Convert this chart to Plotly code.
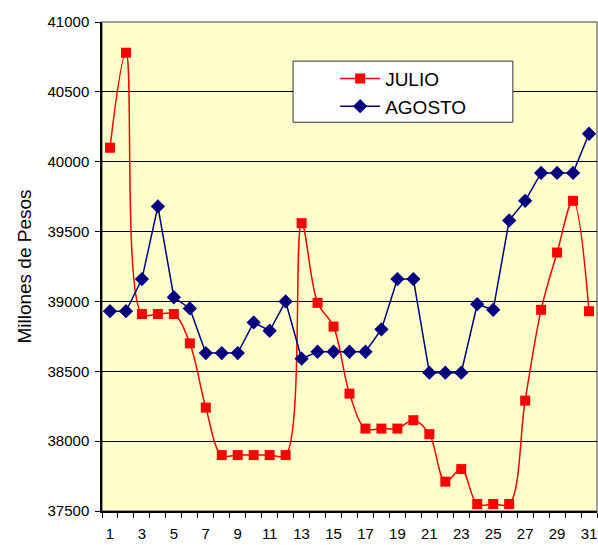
import plotly.graph_objects as go

# Daily balances, in millions of pesos
days = list(range(1, 32))
julio = [40100, 40780, 38910, 38910, 38910, 38700, 38240, 37900, 37900, 37900,
         37900, 37900, 39560, 38990, 38820, 38340, 38090, 38090, 38090, 38150,
         38050, 37710, 37800, 37550, 37550, 37550, 38290, 38940, 39350, 39720,
         38930]
agosto = [38930, 38930, 39160, 39680, 39030, 38950, 38630, 38630, 38630, 38850,
          38790, 39000, 38590, 38640, 38640, 38640, 38640, 38800, 39160, 39160,
          38490, 38490, 38490, 38980, 38940, 39580, 39720, 39920, 39920, 39920,
          40200]
y_ticks = [37500, 38000, 38500, 39000, 39500, 40000, 40500, 41000]
x_labels = list(range(1, 32, 2))

FONT = "Liberation Sans, Arial, sans-serif"

fig = go.Figure()
fig.add_trace(go.Scatter(
    x=days, y=julio, name="JULIO", mode="lines+markers",
    line=dict(color="#FF0000", width=1.5, shape="spline", smoothing=1.0),
    marker=dict(symbol="square", size=10, color="#FF0000"),
))
fig.add_trace(go.Scatter(
    x=days, y=agosto, name="AGOSTO", mode="lines+markers",
    line=dict(color="#000080", width=1.5),
    marker=dict(symbol="diamond", size=11, color="#000080"),
))

# grey frame around the plotting area (top and right edges)
fig.add_shape(type="rect", xref="paper", yref="paper", x0=0, y0=0, x1=1, y1=1,
              line=dict(color="#808080", width=1.5), layer="below")
# white panel with a dark border behind the legend entries
fig.add_shape(type="rect", xref="paper", yref="paper",
              x0=0.386, y0=0.795, x1=0.830, y1=0.920,
              fillcolor="white", line=dict(color="#333333", width=1), layer="above")

fig.update_layout(
    width=598, height=545,
    margin=dict(l=102, r=1, t=22, b=34),
    paper_bgcolor="white",
    plot_bgcolor="#FFFFCC",
    font=dict(family=FONT, color="black", size=15),
    showlegend=True,
    legend=dict(
        x=0.471, y=0.923, xanchor="left", yanchor="top",
        bgcolor="rgba(0,0,0,0)", borderwidth=0,
        font=dict(size=19, family=FONT),
        tracegroupgap=0, itemwidth=40,
    ),
    xaxis=dict(
        range=[0.5, 31.5],
        tickmode="array", tickvals=x_labels, ticktext=[str(v) for v in x_labels],
        ticks="", ticklabelstandoff=8,
        showgrid=False, zeroline=False,
        showline=True, linecolor="black", linewidth=1.5,
        minor=dict(tickvals=[d + 0.5 for d in range(0, 32)], ticks="outside",
                   ticklen=5, tickcolor="black", tickwidth=1, showgrid=False),
        tickfont=dict(size=15),
    ),
    yaxis=dict(
        range=[37500, 41000],
        tickmode="array", tickvals=y_ticks, ticktext=[str(v) for v in y_ticks],
        ticks="outside", ticklen=5, tickcolor="black", tickwidth=1,
        showgrid=True, gridcolor="black", gridwidth=1,
        zeroline=False,
        showline=True, linecolor="black", linewidth=1.5,
        tickfont=dict(size=15), ticklabelstandoff=3,
        title=dict(text="Millones de Pesos", font=dict(size=19), standoff=11),
    ),
)

fig.write_html("out.html")
